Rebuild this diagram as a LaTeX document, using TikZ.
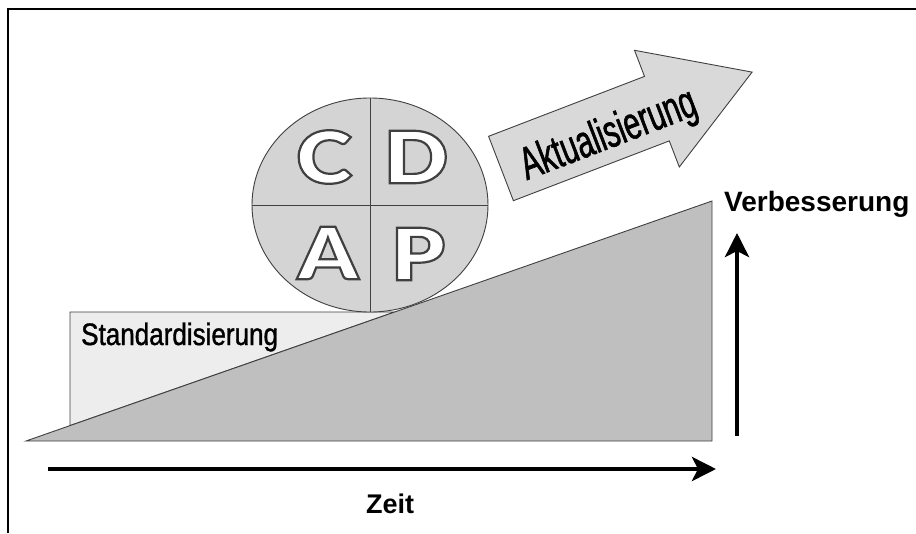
\documentclass[tikz,border=0pt]{standalone}
\usepackage{fontspec}
\usetikzlibrary{arrows.meta}
\setmainfont{Liberation Sans}
\newfontfamily\narrowfont[FakeStretch=0.84,FakeBold=1.2]{Liberation Sans}
\newfontfamily\tallnarrow[FakeStretch=0.64,FakeBold=1.2]{Liberation Sans}
\newfontfamily\widebold[FakeStretch=1.18]{Lato Black}
\definecolor{wedgegray}{gray}{0.75}
\definecolor{discgray}{gray}{0.83}
\definecolor{boxgray}{gray}{0.93}
\definecolor{arrowgray}{gray}{0.85}
\definecolor{edgegray}{gray}{0.25}
% white glyphs with a dark stroked outline (PDF text render mode 2)
\newcommand{\hollowletter}[1]{%
  \special{pdf:literal direct 2 Tr 2.2 w 0.25 G}#1\special{pdf:literal direct 0 Tr}}
\tikzset{
  shape edge/.style={draw=edgegray, line width=0.9pt, line join=miter},
  axis arrow/.style={line width=4.5pt, -{Stealth[length=24pt,width=24pt,inset=6pt]}},
  pdca letter/.style={inner sep=0pt, text=white, font=\widebold\fontsize{72}{72}\selectfont},
  axis label/.style={font=\bfseries\fontsize{27}{27}\selectfont, inner sep=0pt},
}
\begin{document}
\begin{tikzpicture}[x=1pt,y=-1pt]
\useasboundingbox (0,0) rectangle (916,533);
\fill[white] (0,0) rectangle (916,533);

% frame
\draw[line width=2.5pt] (8,533) -- (8,9) -- (916,9);

% standardisation block, resting on the wedge
\draw[shape edge, fill=boxgray] (70,425.6) -- (70,312) -- (394.7,312) -- cycle;
\node[anchor=base west, inner sep=0pt, font=\narrowfont\fontsize{31}{31}\selectfont] (std) at (81,345) {Standardisierung};

% improvement wedge
\draw[shape edge, fill=wedgegray] (26,441) -- (712,441) -- (712,201) -- cycle;

% PDCA disc
\draw[shape edge, fill=discgray] (370,205) ellipse [x radius=118, y radius=107];
\draw[edgegray, line width=0.9pt] (370,98) -- (370,312);
\draw[edgegray, line width=0.9pt] (252,205) -- (488,205);
\node[pdca letter] (C) at (324,157) {\hollowletter{C}};
\node[pdca letter] (D) at (416,157) {\hollowletter{D}};
\node[pdca letter] (A) at (328,253) {\hollowletter{A}};
\node[pdca letter] (P) at (418,254) {\hollowletter{P}};

% update arrow
\draw[shape edge, fill=arrowgray]
  (488.6,136.3) -- (644.5,76.4) -- (634.5,50.3) -- (752.1,72.1)
  -- (679.3,167.0) -- (669.3,140.9) -- (513.4,200.7) -- cycle;
\node[rotate=21, inner sep=0pt, font=\tallnarrow\fontsize{46}{46}\selectfont] (akt) at (609,136) {Aktualisierung};

% axes
\coordinate (tstart) at (48,469);
\coordinate (tend) at (716,469);
\draw[axis arrow] (tstart) -- (tend);
\node[axis label, anchor=base] (zeit) at (390,513) {Zeit};

\coordinate (vstart) at (737,436);
\coordinate (vend) at (737,233);
\draw[axis arrow] (vstart) -- (vend);
\node[axis label, anchor=base west, font=\bfseries\fontsize{28}{28}\selectfont] (verb) at (724,211) {Verbesserung};
\end{tikzpicture}
\end{document}
